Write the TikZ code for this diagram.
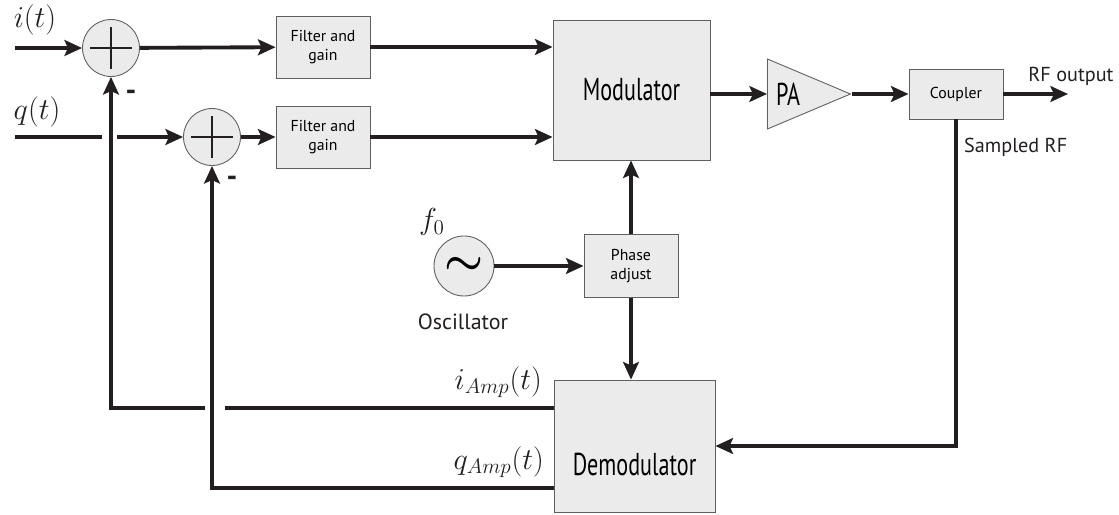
\documentclass[tikz,border=0pt]{standalone}
\usepackage{amsmath}
\usepackage{fontspec}
\setmainfont{PT Sans}
\newfontfamily\condfont[FakeStretch=0.7]{PT Sans}
\usepackage{tikz}
\usetikzlibrary{shapes.geometric, arrows.meta, positioning}
\definecolor{boxgray}{RGB}{235,235,235}
\definecolor{inkblack}{RGB}{35,31,32}
\definecolor{edgegray}{RGB}{95,95,95}

\begin{document}
\begin{tikzpicture}[
  x=0.02cm, y=0.02cm,
  box/.style={rectangle, draw=edgegray, line width=0.5pt, fill=boxgray, align=center,
              inner sep=1pt, font=\fontsize{9}{10.5}\selectfont},
  bigbox/.style={box, font=\condfont\fontsize{18}{20}\selectfont},
  sumnode/.style={circle, draw=edgegray, line width=0.5pt, fill=boxgray, minimum size=1.14cm, inner sep=0pt,
              path picture={\draw[line width=1.3pt, inkblack]
                ([yshift=-4.5pt]path picture bounding box.north) -- ([yshift=4.5pt]path picture bounding box.south)
                ([xshift=4.5pt]path picture bounding box.west) -- ([xshift=-4.5pt]path picture bounding box.east);}},
  oscnode/.style={circle, draw=edgegray, line width=0.5pt, fill=boxgray, minimum size=1.2cm, inner sep=0pt},
  ampnode/.style={isosceles triangle, isosceles triangle stretches, draw=edgegray, line width=0.5pt, fill=boxgray,
              minimum width=1.4cm, minimum height=1.66cm, inner sep=1pt, anchor=west,
              font=\condfont\fontsize{18}{20}\selectfont},
  wire/.style={line width=2.2pt, draw=inkblack},
  arrow/.style={wire, -{Stealth[length=10pt, width=9pt, inset=2pt]}},
  sig/.style={font=\fontsize{17}{20}\selectfont, text=inkblack},
  lbl/.style={font=\fontsize{11.5}{14}\selectfont, text=inkblack},
  minus/.style={font=\bfseries\fontsize{17}{20}\selectfont, text=inkblack}
]
\useasboundingbox (0,0) rectangle (1119,514);

% --- Inputs and summing junctions ---
\node[sumnode] (sum1) at (111,466) {};
\node[sumnode] (sum2) at (212,377) {};
\coordinate (iin) at (15,466);
\coordinate (qin) at (15,377);
\coordinate (qgapL) at (102,377);
\coordinate (qgapR) at (117,377);
\node[sig] (ilbl) at (35,494) {$i(t)$};
\node[sig] (qlbl) at (37,402) {$q(t)$};
\node[minus] (m1) at (131,419) {-};
\node[minus] (m2) at (232,333) {-};

% --- Filters and modulator ---
\node[box, minimum width=1.88cm, minimum height=1.24cm] (filt1) at (323,467) {Filter and\\gain};
\node[box, minimum width=1.88cm, minimum height=1.24cm] (filt2) at (323,377) {Filter and\\gain};
\node[bigbox, minimum width=3.14cm, minimum height=2.8cm] (mod) at (631.5,424) {Modulator};

% --- PA and coupler ---
\node[ampnode] (pa) at (767,420) {PA};
\node[box, minimum width=1.88cm, minimum height=1cm] (cpl) at (956,420) {Coupler};
\coordinate (rfout) at (1068,420);
\node[lbl] (rflbl) at (1071,438) {RF output};
\node[lbl, anchor=west] (smplbl) at (958,367) {Sampled RF};

% --- Oscillator, phase adjust, demodulator ---
\node[oscnode] (osc) at (464,248) {\fontsize{36}{36}\selectfont$\boldsymbol{\sim}$};
\node[sig] (flbl) at (432,292) {$f_0$};
\node[lbl, font=\fontsize{12.5}{15}\selectfont] (osclbl) at (463,192) {Oscillator};
\node[box, minimum width=1.88cm, minimum height=1.26cm] (phase) at (631,248) {Phase\\adjust};
\node[bigbox, minimum width=3.22cm, minimum height=2.64cm,
      label={[font=\condfont\fontsize{18}{20}\selectfont, yshift=-0.36cm]center:Demodulator}] (dem) at (634.5,68) {};
\coordinate (iA) at (225,106);
\coordinate (iB) at (205,106);
\coordinate (qA) at (300,26);
\node[sig, anchor=south east] (ialbl) at (548,110) {$i_{Amp}(t)$};
\node[sig, anchor=south east] (qalbl) at (550,30) {$q_{Amp}(t)$};

% Forward path
\draw[arrow] (iin) -- (sum1);
\draw[wire] (qin) -- (qgapL);
\draw[arrow] (qgapR) -- (sum2);
\draw[arrow] (sum1) -- (filt1);
\draw[arrow] (sum2) -- (filt2);
\draw[arrow] (filt1) -- (filt1 -| mod.west);
\draw[arrow] (filt2) -- (filt2 -| mod.west);
\draw[arrow] (pa.west -| mod.east) -- (pa.west);
\draw[arrow] (pa.east) -- (pa.east -| cpl.west);
\draw[arrow] (cpl) -- (rfout);

% Oscillator paths
\draw[arrow] (osc) -- (osc -| phase.west);
\draw[arrow] (phase.north) -- (phase.north |- mod.south);
\draw[arrow] (phase.south) -- (phase.south |- dem.north);

% Feedback paths
\draw[arrow] (cpl.south) |- (dem.east);
\draw[wire] (dem.west |- iA) -- (iA);
\draw[arrow] (iB) -| (sum1.south);
\draw[arrow] (dem.west |- qA) -| (sum2.south);

\end{tikzpicture}
\end{document}
